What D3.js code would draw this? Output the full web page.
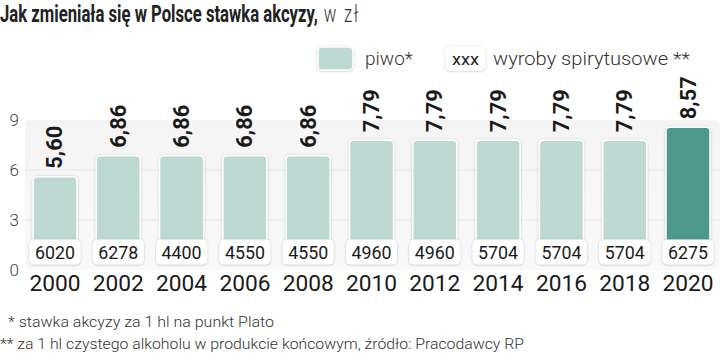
<!DOCTYPE html>
<html><head><meta charset="utf-8">
<script src="https://cdn.jsdelivr.net/npm/d3@7"></script>
<style>body{margin:0;background:#fff}svg{display:block}text{font-family:Roboto,"DejaVu Sans",sans-serif}</style>
</head><body>
<svg id="c" width="720" height="355"></svg>
<script>
const years = ["2000","2002","2004","2006","2008","2010","2012","2014","2016","2018","2020"];
const beer = [5.60,6.86,6.86,6.86,6.86,7.79,7.79,7.79,7.79,7.79,8.57];
const spirits = [6020,6278,4400,4550,4550,4960,4960,5704,5704,5704,6275];
const yTicks = [0,3,6,9];
const highlight = "2020";

const svg = d3.select("#c");
const x = d3.scaleBand().domain(years).range([33,710]).paddingInner(0.305).paddingOuter(0);
const y = d3.scaleLinear().domain([0,9]).range([270,120]);
const fmt = v => v.toFixed(2).replace(".", ",");
const barBottom = y(0) - 8;

// defs
const defs = svg.append("defs");
const f = defs.append("filter").attr("id","sh").attr("x","-20%").attr("y","-20%").attr("width","140%").attr("height","140%");
f.append("feDropShadow").attr("dx",0).attr("dy",0.5).attr("stdDeviation",1).attr("flood-color","#000").attr("flood-opacity",0.25);
const g = defs.append("linearGradient").attr("id","bg").attr("x1",0).attr("x2",0).attr("y1",0).attr("y2",1);
g.append("stop").attr("offset","0%").attr("stop-color","#f4f4f4");
g.append("stop").attr("offset","100%").attr("stop-color","#f9f9f9");

// title (single text, horizontally condensed to fit reference width)
const title = svg.append("text").attr("x",0).attr("y",22).attr("font-size",23).attr("fill","#222");
const tb = title.append("tspan").attr("font-weight","bold").text("Jak zmieniała się w Polsce stawka akcyzy,");
title.append("tspan").attr("font-weight","300").attr("fill","#333").attr("letter-spacing",2.5).text(" w zł");
const bw = tb.node().getComputedTextLength();
const sx = 318 / bw;
title.attr("transform",`scale(${sx},1)`);

// legend
svg.append("rect").attr("x",318).attr("y",47).attr("width",35).attr("height",23).attr("rx",4)
  .attr("fill","#bdd9d2").attr("stroke","#fff").attr("stroke-width",1.5).attr("filter","url(#sh)");
svg.append("text").attr("x",365).attr("y",65).attr("font-size",19).attr("font-weight","300").attr("fill","#333").text("piwo*");
svg.append("rect").attr("x",446).attr("y",47).attr("width",39).attr("height",23).attr("rx",4)
  .attr("fill","#fff").attr("stroke","#fff").attr("stroke-width",1.5).attr("filter","url(#sh)");
svg.append("text").attr("x",465.5).attr("y",64.5).attr("text-anchor","middle").attr("font-size",16).attr("fill","#222")
  .attr("textLength",27).attr("lengthAdjust","spacingAndGlyphs").text("xxx");
svg.append("text").attr("x",493).attr("y",65).attr("font-size",19).attr("font-weight","300").attr("fill","#333")
  .attr("textLength",197).attr("lengthAdjust","spacingAndGlyphs").text("wyroby spirytusowe **");

// plot background
svg.append("rect").attr("x",25).attr("y",y(9)).attr("width",695).attr("height",y(0)-y(9)).attr("rx",6).attr("fill","url(#bg)");

// gridlines
svg.append("g").selectAll("line").data(yTicks.filter(d=>d>0&&d<9)).join("line")
  .attr("x1",25).attr("x2",720).attr("y1",d=>y(d)).attr("y2",d=>y(d)).attr("stroke","#e6e6e6").attr("stroke-width",1);

// y axis labels
const ya = svg.append("g").attr("transform","translate(19,0)")
  .call(d3.axisLeft(y).tickValues(yTicks).tickSize(0).tickPadding(0));
ya.select(".domain").remove();
ya.selectAll("text").attr("font-size",17).attr("font-weight","300").attr("fill","#444").attr("font-family","Roboto,sans-serif").attr("dy","0.35em");

// bars
svg.append("g").selectAll("rect").data(years).join("rect")
  .attr("x",d=>x(d)).attr("width",x.bandwidth())
  .attr("y",(d,i)=>y(beer[i])).attr("height",(d,i)=>barBottom-y(beer[i]))
  .attr("rx",4)
  .attr("fill",d=>d===highlight?"#4e9a8d":"#bdd9d2")
  .attr("stroke","#fff").attr("stroke-width",1.5).attr("filter","url(#sh)");

// value labels rotated
svg.append("g").selectAll("text").data(years).join("text")
  .attr("transform",(d,i)=>`translate(${x(d)+x.bandwidth()/2+7.5},${y(beer[i])-8}) rotate(-90)`)
  .attr("font-size",22).attr("font-weight","bold").attr("fill","#1a1a1a")
  .attr("textLength",43).attr("lengthAdjust","spacingAndGlyphs")
  .text((d,i)=>fmt(beer[i]));

// spirits boxes
const sb = svg.append("g").selectAll("g").data(years).join("g");
sb.append("rect").attr("x",d=>x(d)+x.bandwidth()/2-25).attr("y",240).attr("width",50).attr("height",24).attr("rx",4)
  .attr("fill","#fff").attr("stroke","#fff").attr("stroke-width",1).attr("filter","url(#sh)");
sb.append("text").attr("x",d=>x(d)+x.bandwidth()/2).attr("y",259).attr("text-anchor","middle")
  .attr("font-size",18).attr("fill","#1a1a1a").attr("textLength",40).attr("lengthAdjust","spacingAndGlyphs")
  .text((d,i)=>spirits[i]);

// x axis labels
const xa = svg.append("g").attr("transform","translate(0,275)").call(d3.axisBottom(x).tickSize(0).tickPadding(0));
xa.select(".domain").remove();
xa.selectAll("text").attr("font-size",22).attr("fill","#1a1a1a").attr("font-family","Roboto,sans-serif").attr("dy","0.71em")
  .attr("textLength",51).attr("lengthAdjust","spacingAndGlyphs");

// footnotes
svg.append("text").attr("x",8).attr("y",327).attr("font-size",15).attr("font-weight","300").attr("fill","#333")
  .attr("textLength",266).attr("lengthAdjust","spacingAndGlyphs").text("* stawka akcyzy za 1 hl na punkt Plato");
svg.append("text").attr("x",0).attr("y",349).attr("font-size",15).attr("font-weight","300").attr("fill","#333")
  .attr("textLength",524).attr("lengthAdjust","spacingAndGlyphs").text("** za 1 hl czystego alkoholu w produkcie końcowym, źródło: Pracodawcy RP");
</script>
</body></html>
